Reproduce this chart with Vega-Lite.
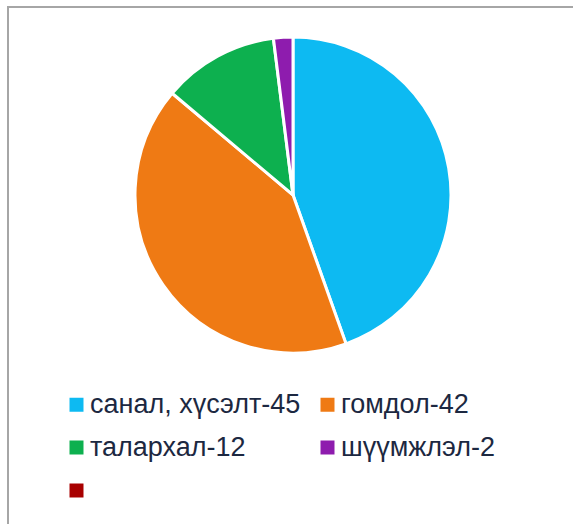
{
  "$schema": "https://vega.github.io/schema/vega-lite/v6.json",
  "width": 600,
  "height": 560,
  "padding": {"left": 8, "top": 7, "right": 0, "bottom": 0},
  "background": "white",
  "view": {"stroke": "#a6a6a6", "strokeWidth": 2, "fill": "white"},
  "config": {
    "font": "Liberation Sans"
  },
  "data": {
    "values": [
      {"category": "санал, хүсэлт-45", "value": 45, "order": 1},
      {"category": "гомдол-42", "value": 42, "order": 2},
      {"category": "талархал-12", "value": 12, "order": 3},
      {"category": "шүүмжлэл-2", "value": 2, "order": 4}
    ]
  },
  "mark": {"type": "arc", "radius": 158, "x": 285, "y": 188, "stroke": "white", "strokeWidth": 3},
  "encoding": {
    "theta": {"field": "value", "type": "quantitative", "stack": true},
    "order": {"field": "order", "type": "quantitative"},
    "color": {
      "field": "category",
      "type": "nominal",
      "scale": {
        "domain": ["санал, хүсэлт-45", "гомдол-42", "талархал-12", "шүүмжлэл-2", " "],
        "range": ["#0DBAF2", "#EF7A14", "#0DB04F", "#8E1CAE", "#A80000"]
      },
      "legend": {
        "orient": "none",
        "legendX": 55,
        "legendY": 384,
        "title": null,
        "direction": "horizontal",
        "columns": 2,
        "columnPadding": 13,
        "rowPadding": 15,
        "padding": 0,
        "symbolType": "square",
        "symbolSize": 196,
        "symbolStrokeWidth": 0,
        "labelFontSize": 27,
        "labelFont": "Liberation Sans",
        "labelColor": "#1C2841",
        "labelOffset": 0,
        "labelLimit": 400
      }
    }
  }
}
